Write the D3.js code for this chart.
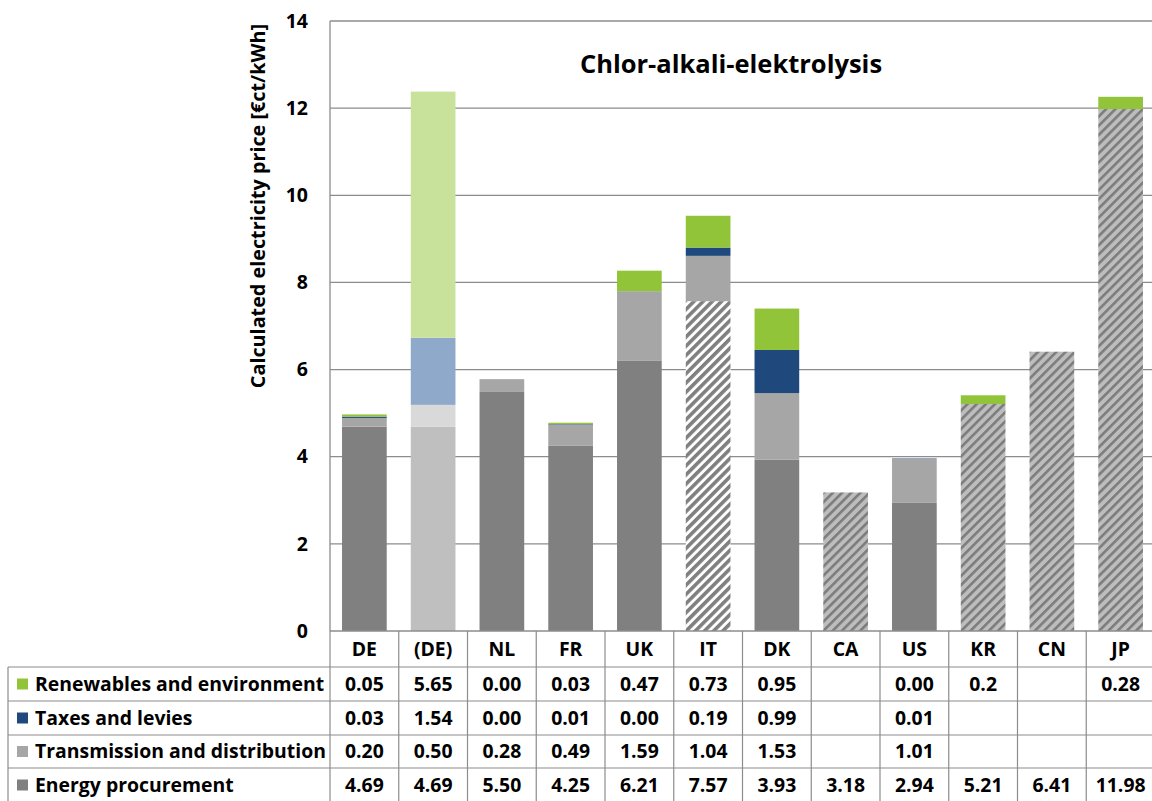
<!DOCTYPE html>
<html>
<head>
<meta charset="utf-8">
<script src="https://cdn.jsdelivr.net/npm/d3@7"></script>
<style>
  html, body { margin: 0; padding: 0; background: #ffffff; }
  svg { display: block; }
  text { font-family: "Open Sans", Lato, sans-serif; font-weight: 700; fill: #000; }
</style>
</head>
<body>
<svg id="chart" width="1152" height="801"></svg>
<script>
// Countries compared
const categories = ["DE", "(DE)", "NL", "FR", "UK", "IT", "DK", "CA", "US", "KR", "CN", "JP"];

// Price components in €ct/kWh (null = not reported)
const renewables   = ["0.05", "5.65", "0.00", "0.03", "0.47", "0.73", "0.95", null, "0.00", "0.2", null, "0.28"];
const taxes        = ["0.03", "1.54", "0.00", "0.01", "0.00", "0.19", "0.99", null, "0.01", null, null, null];
const transmission = ["0.20", "0.50", "0.28", "0.49", "1.59", "1.04", "1.53", null, "1.01", null, null, null];
const procurement  = ["4.69", "4.69", "5.50", "4.25", "6.21", "7.57", "3.93", "3.18", "2.94", "5.21", "6.41", "11.98"];

const yTicks = [0, 2, 4, 6, 8, 10, 12, 14];

// Category with the alternative (pale) German scenario
const scenarioCategory = "(DE)";
// Categories whose procurement price is an estimate (hatched)
const estimatedLight = ["IT"];
const estimatedGray = ["CA", "KR", "CN", "JP"];

const seriesNames = ["Renewables and environment", "Taxes and levies", "Transmission and distribution", "Energy procurement"];
const seriesData = [renewables, taxes, transmission, procurement];

// ---- styles ----
const colors = {
  "Energy procurement": "#808080",
  "Transmission and distribution": "#a6a6a6",
  "Taxes and levies": "#1f497d",
  "Renewables and environment": "#92c43a"
};
const paleColors = {
  "Energy procurement": "#bfbfbf",
  "Transmission and distribution": "#d9d9d9",
  "Taxes and levies": "#8ea9c9",
  "Renewables and environment": "#c9e29b"
};

const svg = d3.select("#chart");

const plotLeft = 330, plotRight = 1155, plotTop = 21, plotBottom = 631;
const rowEdges = [631, 667, 701, 735, 768, 802];
const tableLeft = 8;
const gridColor = "#8c8c8c";

const x = d3.scaleBand().domain(categories).range([plotLeft, plotRight]).paddingInner(0.35).paddingOuter(0.175);
const y = d3.scaleLinear().domain([0, 14]).range([plotBottom, plotTop]);
const step = x.step();

// hatch patterns
const defs = svg.append("defs");
function hatch(id, bg, stripe, w) {
  const p = defs.append("pattern").attr("id", id)
    .attr("patternUnits", "userSpaceOnUse").attr("width", 6.5).attr("height", 6.5)
    .attr("patternTransform", "rotate(45)");
  p.append("rect").attr("width", 6.5).attr("height", 6.5).attr("fill", bg);
  p.append("rect").attr("width", w).attr("height", 6.5).attr("fill", stripe);
}
hatch("hatchLight", "#ffffff", "#808080", 3.6);
hatch("hatchGray", "#bdbdbd", "#7c7c7c", 2.6);

// gridlines
svg.append("g").selectAll("line").data(yTicks.filter(d => d > 0)).join("line")
  .attr("x1", plotLeft).attr("x2", plotRight)
  .attr("y1", d => y(d)).attr("y2", d => y(d))
  .attr("stroke", gridColor).attr("stroke-width", 1.3);

// y tick labels
const yAxis = d3.axisLeft(y).tickValues(yTicks).tickSize(0).tickPadding(22);
const gy = svg.append("g").attr("transform", `translate(${plotLeft},0)`).call(yAxis);
gy.select(".domain").remove();
gy.selectAll("text").style("font-size", "19.5px").style("font-family", "'Open Sans', sans-serif").style("font-weight", 700);

// stacked bars
const stackOrder = ["Energy procurement", "Transmission and distribution", "Taxes and levies", "Renewables and environment"];
const rows = categories.map((c, i) => {
  const r = { category: c };
  seriesNames.forEach((s, k) => { r[s] = seriesData[k][i] == null ? 0 : +seriesData[k][i]; });
  return r;
});
const stacked = d3.stack().keys(stackOrder)(rows);

function fillFor(key, cat) {
  if (key === "Energy procurement") {
    if (estimatedLight.includes(cat)) return "url(#hatchLight)";
    if (estimatedGray.includes(cat)) return "url(#hatchGray)";
  }
  return cat === scenarioCategory ? paleColors[key] : colors[key];
}

svg.append("g").selectAll("g").data(stacked).join("g")
  .each(function (layer) {
    d3.select(this).selectAll("rect").data(layer.filter(d => d[1] - d[0] > 0)).join("rect")
      .attr("x", d => x(d.data.category))
      .attr("width", x.bandwidth())
      .attr("y", d => y(d[1]))
      .attr("height", d => y(d[0]) - y(d[1]))
      .attr("fill", d => fillFor(layer.key, d.data.category));
  });

// axis frame: left and bottom
svg.append("line").attr("x1", plotLeft).attr("x2", plotLeft).attr("y1", plotTop).attr("y2", plotBottom)
  .attr("stroke", gridColor).attr("stroke-width", 1.3);
svg.append("line").attr("x1", plotLeft).attr("x2", plotRight).attr("y1", plotBottom).attr("y2", plotBottom)
  .attr("stroke", gridColor).attr("stroke-width", 1.5);

// data table
const table = svg.append("g");
const boundaries = d3.range(categories.length + 1).map(i => plotLeft + i * step);
table.selectAll("line.v").data(boundaries).join("line").attr("class", "v")
  .attr("x1", d => d).attr("x2", d => d).attr("y1", rowEdges[0]).attr("y2", rowEdges[rowEdges.length - 1])
  .attr("stroke", gridColor).attr("stroke-width", 1.2);
table.append("line").attr("x1", tableLeft).attr("x2", tableLeft).attr("y1", rowEdges[1]).attr("y2", rowEdges[rowEdges.length - 1])
  .attr("stroke", gridColor).attr("stroke-width", 1.2);
table.selectAll("line.h").data(rowEdges.slice(1)).join("line").attr("class", "h")
  .attr("x1", tableLeft).attr("x2", plotRight).attr("y1", d => d).attr("y2", d => d)
  .attr("stroke", gridColor).attr("stroke-width", 1.2);

const fs = 19.4;
// header: country codes
table.selectAll("text.cat").data(categories).join("text").attr("class", "cat")
  .attr("x", d => x(d) + x.bandwidth() / 2)
  .attr("y", (rowEdges[0] + rowEdges[1]) / 2)
  .attr("dy", "0.36em").attr("text-anchor", "middle").style("font-size", fs + "px")
  .text(d => d);

seriesNames.forEach((s, k) => {
  const top = rowEdges[k + 1], bot = rowEdges[k + 2], mid = (top + bot) / 2;
  table.append("rect").attr("x", 17).attr("y", mid - 5.5).attr("width", 11).attr("height", 11).attr("fill", colors[s]);
  table.append("text").attr("x", 35).attr("y", mid).attr("dy", "0.36em").style("font-size", fs + "px").text(s);
  table.selectAll(null).data(seriesData[k].map((v, i) => ({ v, c: categories[i] })).filter(d => d.v != null))
    .join("text")
    .attr("x", d => x(d.c) + x.bandwidth() / 2)
    .attr("y", mid).attr("dy", "0.36em").attr("text-anchor", "middle").style("font-size", fs + "px")
    .text(d => d.v);
});

// title and axis title
svg.append("text").attr("x", 731).attr("y", 64).attr("dy", "0.36em").attr("text-anchor", "middle")
  .style("font-size", "25.5px").text("Chlor-alkali-elektrolysis");
svg.append("text").attr("transform", "translate(258,206) rotate(-90)").attr("dy", "0.36em")
  .attr("text-anchor", "middle").style("font-size", "19.8px").text("Calculated electricity price [€ct/kWh]");
</script>
</body>
</html>
